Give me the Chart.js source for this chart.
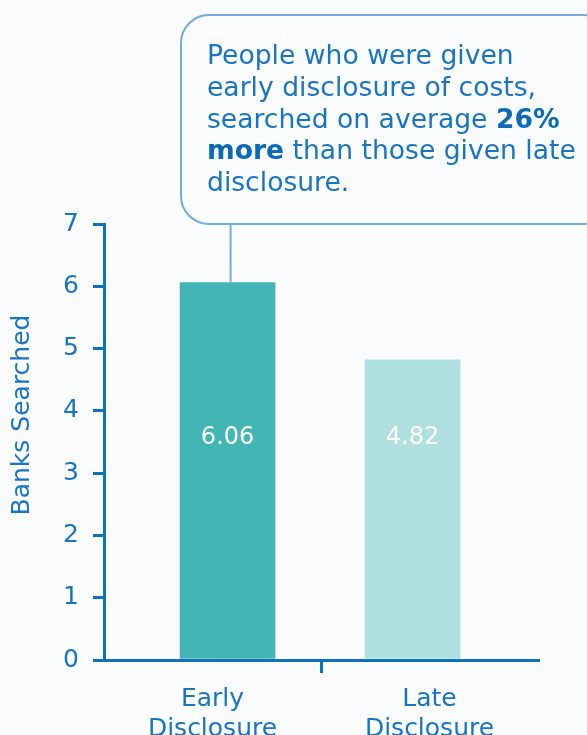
<!DOCTYPE html>
<html>
<head>
<meta charset="utf-8">
<script src="https://cdn.jsdelivr.net/npm/chart.js@4"></script>
<style>
  html, body { margin: 0; padding: 0; background: #fafbfc; }
  #wrap { width: 587px; height: 735px; position: relative; }
</style>
</head>
<body>
<div id="wrap"><canvas id="c" width="587" height="735"></canvas></div>
<script>
// Average number of banks searched, by timing of cost disclosure
const categories = [['Early', 'Disclosure'], ['Late', 'Disclosure']];
const banksSearched = [6.06, 4.82];
const valueLabels = ['6.06', '4.82'];
const yTicks = [0, 1, 2, 3, 4, 5, 6, 7];
const barColors = ['#43b5b4', '#b0dfdf'];
const noteLines = [
  [['People who were given', false]],
  [['early disclosure of costs,', false]],
  [['searched on average ', false], ['26%', true]],
  [['more', true], [' than those given late', false]],
  [['disclosure.', false]]
];

const BLUE = '#0f70bb';
const TEXT = '#1a74c1';
const FONT = '"DejaVu Sans", sans-serif';

// Value labels inside the bars
const valueLabelPlugin = {
  id: 'valueLabels',
  afterDatasetsDraw(chart) {
    const ctx = chart.ctx;
    const area = chart.chartArea;
    const meta = chart.getDatasetMeta(0);
    ctx.save();
    ctx.fillStyle = '#ffffff';
    ctx.font = '24px ' + FONT;
    ctx.textAlign = 'center';
    ctx.textBaseline = 'middle';
    meta.data.forEach((bar, i) => {
      ctx.fillText(valueLabels[i], bar.x, (area.top + area.bottom) / 2 - 4);
    });
    ctx.restore();
  }
};

// Callout box with connector to the first bar, plus the rotated axis title
const calloutPlugin = {
  id: 'callout',
  afterDraw(chart) {
    const ctx = chart.ctx;
    const bar = chart.getDatasetMeta(0).data[0];
    const bx = 181, by = 15, bw = 430, bh = 209, r = 28;
    ctx.save();
    // connector
    ctx.strokeStyle = '#74abdd';
    ctx.lineWidth = 2;
    ctx.beginPath();
    ctx.moveTo(bar.x + 3, by + bh);
    ctx.lineTo(bar.x + 3, bar.y);
    ctx.stroke();
    // rounded box
    ctx.fillStyle = '#fafbfc';
    ctx.beginPath();
    ctx.roundRect(bx, by, bw, bh, r);
    ctx.fill();
    ctx.stroke();
    // text
    ctx.textBaseline = 'alphabetic';
    ctx.textAlign = 'left';
    noteLines.forEach((parts, li) => {
      let x = 207;
      const y = 64 + li * 31.8;
      parts.forEach(([txt, bold]) => {
        ctx.font = (bold ? 'bold ' : '') + '26.6px ' + FONT;
        ctx.fillStyle = bold ? '#0a6ab8' : TEXT;
        ctx.fillText(txt, x, y);
        x += ctx.measureText(txt).width;
      });
    });
    // y axis title
    ctx.translate(22, 415);
    ctx.rotate(-Math.PI / 2);
    ctx.font = '25px ' + FONT;
    ctx.fillStyle = TEXT;
    ctx.textAlign = 'center';
    ctx.textBaseline = 'middle';
    ctx.fillText('Banks Searched', 0, 0);
    ctx.restore();
  }
};

new Chart(document.getElementById('c'), {
  type: 'bar',
  data: {
    labels: categories,
    datasets: [{
      data: banksSearched.map((v, i) => ({ x: i, y: v })),
      backgroundColor: barColors,
      borderWidth: 0,
      xAxisID: 'xb',
      yAxisID: 'y',
      barThickness: 95
    }]
  },
  options: {
    responsive: false,
    animation: false,
    events: [],
    layout: { padding: { top: 224, right: 49, bottom: 0, left: 0 } },
    plugins: { legend: { display: false }, tooltip: { enabled: false } },
    scales: {
      xb: {
        type: 'linear',
        display: false,
        offset: false,
        grid: { offset: false },
        min: -0.668,
        max: 1.678
      },
      x: {
        type: 'category',
        position: 'bottom',
        labels: categories,
        offset: true,
        border: { display: true, color: BLUE, width: 3 },
        grid: {
          offset: true,
          drawOnChartArea: false,
          drawTicks: true,
          tickLength: 13,
          lineWidth: 3,
          color: (c) => (c.index === 1 ? BLUE : 'rgba(0,0,0,0)')
        },
        ticks: {
          color: TEXT,
          font: { family: FONT, size: 25, lineHeight: 1.2 },
          padding: 11,
          maxRotation: 0,
          autoSkip: false
        },
        afterFit(scale) { scale.height = 75; }
      },
      y: {
        position: 'left',
        min: 0,
        max: 7,
        afterBuildTicks(scale) { scale.ticks = yTicks.map(v => ({ value: v })); },
        border: { display: true, color: BLUE, width: 3 },
        grid: {
          drawOnChartArea: false,
          drawTicks: true,
          tickLength: 11,
          lineWidth: 3,
          color: BLUE
        },
        ticks: {
          color: TEXT,
          font: { family: FONT, size: 25 },
          padding: 14,
          crossAlign: 'center'
        },
        title: { display: false },
        afterFit(scale) { scale.width = 104; }
      }
    }
  },
  plugins: [valueLabelPlugin, calloutPlugin]
});
</script>
</body>
</html>
